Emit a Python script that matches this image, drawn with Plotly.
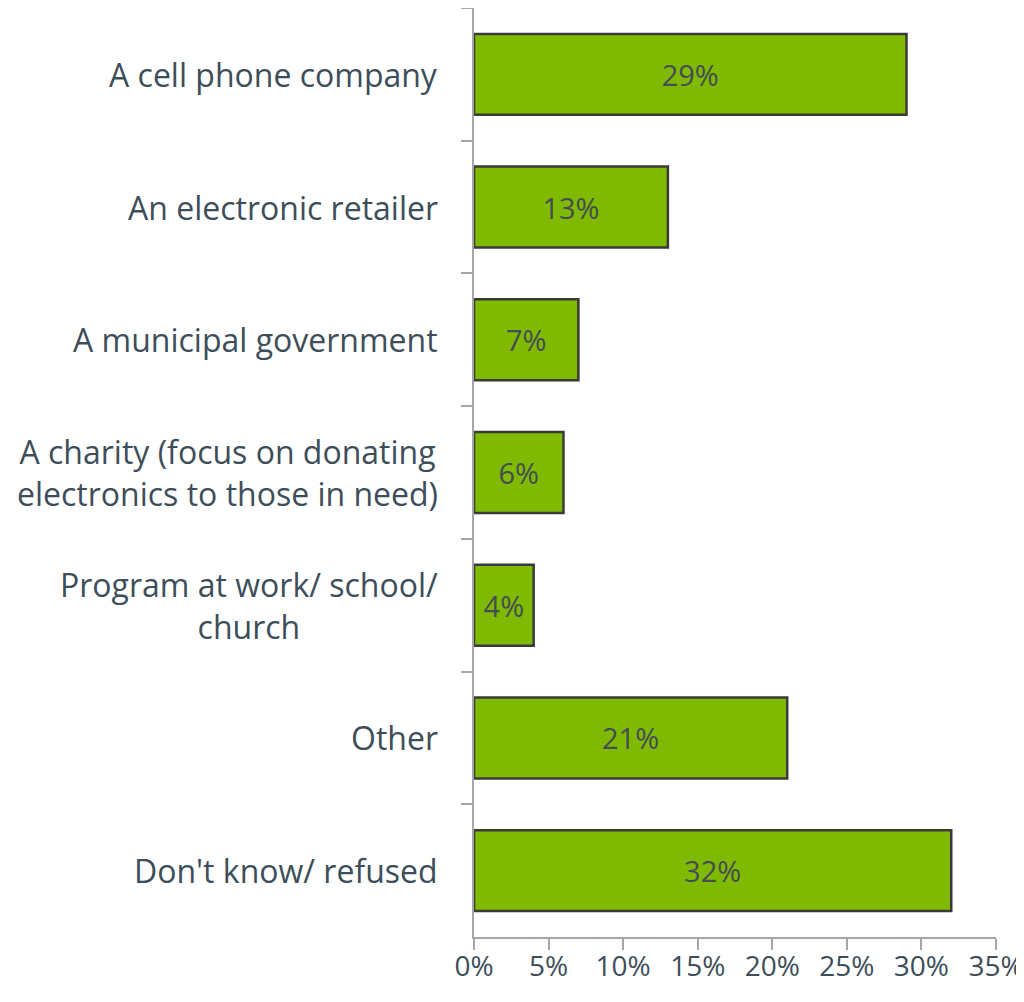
import plotly.graph_objects as go

categories = [
    "A cell phone company",
    "An electronic retailer",
    "A municipal government",
    "A charity (focus on donating<br>electronics to those in need)",
    "Program at work/ school/<br>church",
    "Other",
    "Don't know/ refused",
]
values = [29, 13, 7, 6, 4, 21, 32]
x_ticks = [0, 5, 10, 15, 20, 25, 30, 35]
x_ticklabels = ["0%", "5%", "10%", "15%", "20%", "25%", "30%", "35%"]

FONT = "Open Sans"
LABEL_COLOR = "#3d4e5a"

fig = go.Figure()
fig.add_trace(go.Bar(
    x=values,
    y=categories,
    orientation="h",
    width=0.61,
    marker=dict(color="#7fba00", line=dict(color="#3a3a3a", width=2.5)),
    text=[f"{v}%" for v in values],
    textposition="inside",
    insidetextanchor="middle",
    textangle=0,
    constraintext="none",
    textfont=dict(family=FONT, size=29, color="#454c52"),
    hoverinfo="skip",
))

for c in categories:
    fig.add_annotation(
        x=0, xref="paper", y=c, yref="y",
        text=c, showarrow=False, xanchor="right", yanchor="middle",
        xshift=-34, align="center",
        font=dict(family=FONT, size=32, color=LABEL_COLOR),
    )

fig.update_layout(
    width=1016, height=994,
    margin=dict(l=466, r=28, t=0, b=65),
    paper_bgcolor="white", plot_bgcolor="white",
    showlegend=False,
    font=dict(family=FONT, color=LABEL_COLOR),
)
fig.update_xaxes(
    range=[0, 35], tickvals=x_ticks, ticktext=x_ticklabels,
    automargin=False,
    showgrid=False, zeroline=False,
    showline=True, linecolor="#a6a6a6", linewidth=2,
    ticks="outside", ticklen=11, tickwidth=2, tickcolor="#a6a6a6",
    tickfont=dict(family=FONT, size=28, color=LABEL_COLOR),
    ticklabelstandoff=-8,
)
fig.update_yaxes(
    categoryorder="array", categoryarray=categories,
    range=[6.5, -0.5],
    automargin=False,
    showticklabels=False,
    showgrid=False, zeroline=False,
    showline=True, linecolor="#a6a6a6", linewidth=2,
    ticks="outside", tickson="boundaries", ticklen=11, tickwidth=2, tickcolor="#a6a6a6",
)

fig.write_html("out.html")
